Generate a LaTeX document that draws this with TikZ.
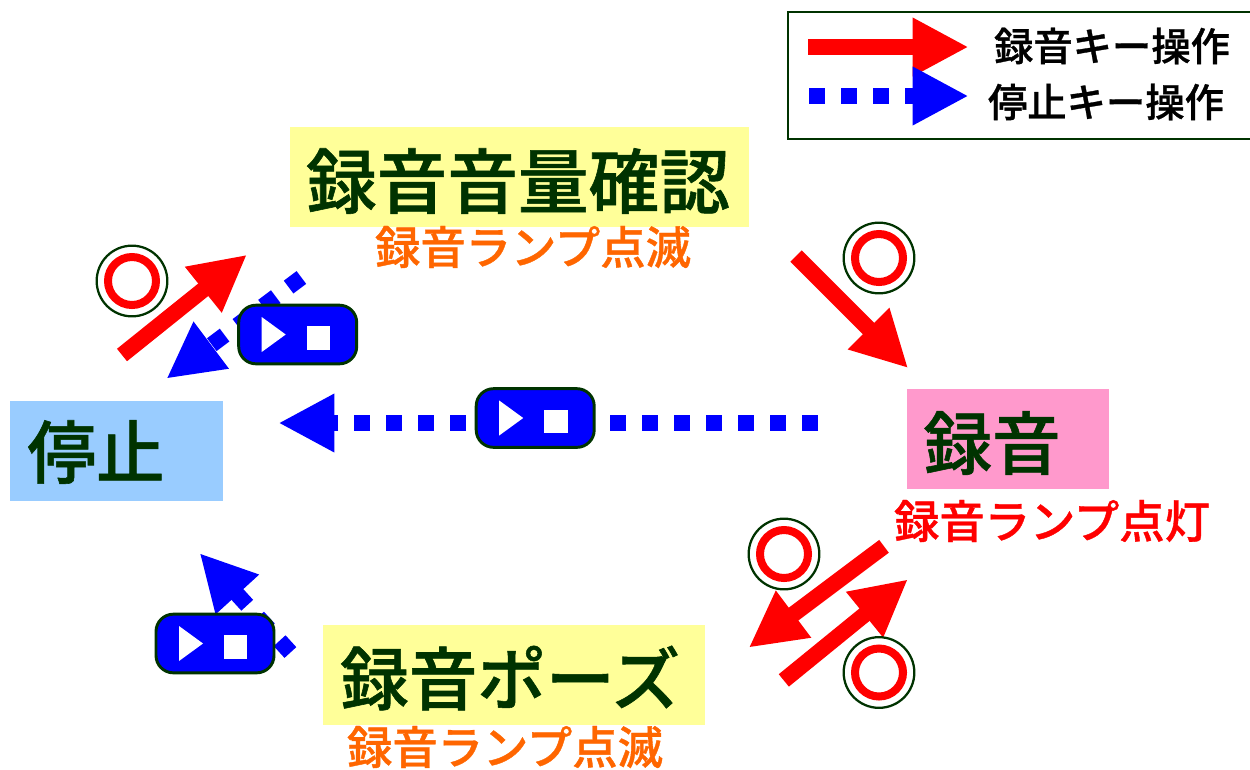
\documentclass[tikz,border=0pt]{standalone}
\usepackage{fontspec}
\setmainfont{Noto Sans CJK JP Medium}[FakeBold=0.8]
\usetikzlibrary{arrows.meta}
\definecolor{dkgreen}{HTML}{003300}
\definecolor{lampor}{HTML}{FF6600}
\definecolor{yel}{HTML}{FFFF99}
\definecolor{sky}{HTML}{99CCFF}
\definecolor{pnk}{HTML}{FF99CC}
\tikzset{
  titletext/.style={inner sep=0pt,text=dkgreen,font=\fontsize{51.5}{60}\selectfont},
  bigtitle/.style={inner sep=0pt,text=dkgreen,font=\fontsize{53}{60}\selectfont},
  lamptext/.style={inner sep=0pt,font=\fontsize{34}{40}\selectfont},
  legtext/.style={inner sep=0pt,text=black,font=\fontsize{29.5}{36}\selectfont},
  redarrow/.style={draw=red,line width=12pt,shorten >=-1.2pt,-{Triangle[length=42pt,width=41pt,fill=red]}},
  bluearrow/.style={draw=blue,line width=12pt,shorten >=-1.2pt,dash pattern=on 12pt off 12pt,-{Triangle[length=42pt,width=41pt,fill=blue]}},
  okmark/.style={circle,draw=dkgreen,line width=1.7pt,minimum size=53pt,inner sep=0pt},
  okring/.style={circle,draw=red,line width=6pt,minimum size=36pt,inner sep=0pt},
  keybtn/.style={draw=dkgreen,fill=blue,line width=2.2pt,rounded corners=13pt,minimum width=88.5pt,minimum height=44pt,inner sep=0pt},
}
\newcommand{\keyglyphs}[1]{%
  \fill[white] ([shift={(-36,-17.5)}]#1.center) -- ([shift={(-36,17.5)}]#1.center) -- ([shift={(-12,0)}]#1.center) -- cycle;
  \fill[white] ([shift={(9,-8.5)}]#1.center) rectangle ([shift={(32.3,15)}]#1.center);
}
\begin{document}
\begin{tikzpicture}[x=0.75pt,y=-0.75pt]
\useasboundingbox (0,0) rectangle (1250,769);
% state boxes
\fill[yel] (290,127) rectangle (749,227);
\fill[sky] (10,401) rectangle (223,501);
\fill[pnk] (907,389) rectangle (1109,489);
\fill[yel] (323,625) rectangle (705,725);
% legend
\draw[dkgreen,line width=1.9pt] (1270,12) -- (788,12) -- (788,139) -- (1270,139);
\coordinate (la) at (808,47); \coordinate (lb) at (967,47);
\coordinate (lc) at (809,96); \coordinate (ld) at (967,96);
\draw[redarrow] (la) -- (lb);
\draw[bluearrow] (lc) -- (ld);
\node[legtext] (l1) at (1112,46) {録音キー操作};
\node[legtext] (l2) at (1106,102) {停止キー操作};
% state titles
\node[bigtitle] (t1) at (518,181) {録音音量確認};
\node[titletext] (t2) at (96,452) {停止};
\node[titletext] (t3) at (992,443) {録音};
\node[titletext] (t4) at (510,678) {録音ポーズ};
\node[lamptext,text=lampor] (s1) at (533,247) {録音ランプ点滅};
\node[lamptext,text=red] (s2) at (1052,521) {録音ランプ点灯};
\node[lamptext,text=lampor] (s3) at (505,747) {録音ランプ点滅};
% arrows
\coordinate (a1s) at (122,355); \coordinate (a1e) at (245.7,255.7);
\coordinate (a2s) at (796,256); \coordinate (a2e) at (907,367);
\coordinate (a3s) at (884,546.3); \coordinate (a3e) at (750,646.7);
\coordinate (a4s) at (783.8,680.4); \coordinate (a4e) at (906.7,580.3);
\coordinate (b1s) at (301.4,277.5); \coordinate (b1e) at (167.7,377.7);
\coordinate (b2s) at (818,423); \coordinate (b2e) at (280,423);
\coordinate (b3s) at (290.4,652.5); \coordinate (b3e) at (200.7,554.3);
\draw[redarrow] (a1s) -- (a1e);
\draw[redarrow] (a2s) -- (a2e);
\draw[redarrow] (a3s) -- (a3e);
\draw[redarrow] (a4s) -- (a4e);
\draw[bluearrow] (b1s) -- (b1e);
\draw[bluearrow] (b2s) -- (b2e);
\draw[bluearrow] (b3s) -- (b3e);
% circle marks
\foreach \n/\p in {m1/{(132,281)},m2/{(879,258)},m3/{(784,554)},m4/{(879,672.5)}}{
  \node[okmark] (\n) at \p {};
  \node[okring] (\n r) at \p {};
}
% key buttons
\node[keybtn] (k1) at (297.7,334.5) {};
\node[keybtn] (k2) at (535.2,418) {};
\node[keybtn] (k3) at (215,643.5) {};
\keyglyphs{k1}
\keyglyphs{k2}
\keyglyphs{k3}
\end{tikzpicture}
\end{document}
